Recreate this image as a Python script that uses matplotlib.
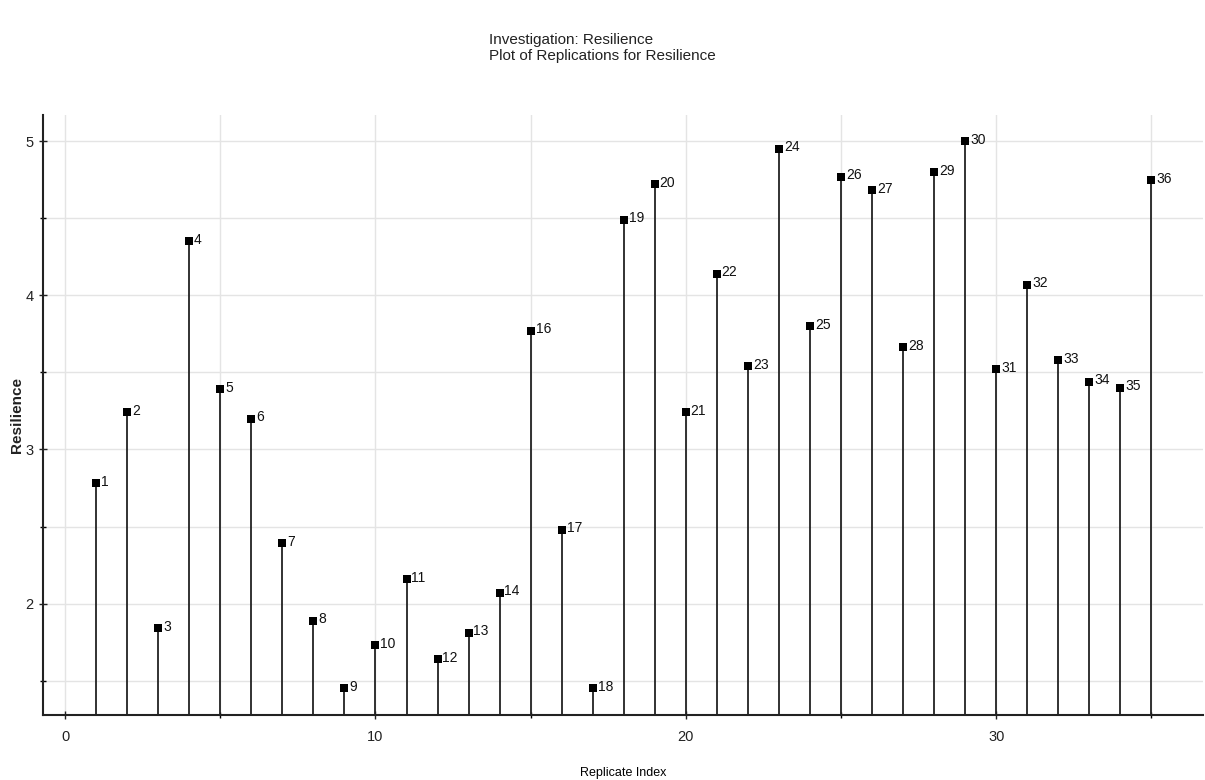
import matplotlib
matplotlib.use("Agg")
import matplotlib.pyplot as plt
from matplotlib.ticker import MultipleLocator

plt.rcParams['font.family'] = ['Liberation Sans', 'DejaVu Sans']

# Data
replicate_x = list(range(1, 36))
point_labels = [str(i) for i in range(1, 15)] + [str(i) for i in range(16, 37)]
resilience = [2.78, 3.24, 1.84, 4.35, 3.39, 3.20, 2.39, 1.89, 1.45, 1.73,
              2.16, 1.64, 1.81, 2.07, 3.77, 2.48, 1.45, 4.49, 4.72, 3.24,
              4.14, 3.54, 4.95, 3.80, 4.77, 4.68, 3.665, 4.80, 5.00, 3.52,
              4.07, 3.58, 3.44, 3.40, 4.745]

title_lines = ["Investigation: Resilience", "Plot of Replications for Resilience"]
x_label = "Replicate Index"
y_label = "Resilience"

fig = plt.figure(figsize=(12.05, 7.8), dpi=100)
ax = fig.add_axes([0.036, 0.0833, 0.962, 0.7693])

ymin, ymax = 1.277, 5.17
ax.set_xlim(-0.70, 36.65)
ax.set_ylim(ymin, ymax)

ax.vlines(replicate_x, ymin, resilience, colors='#222222', linewidth=1.3, zorder=3)
ax.scatter(replicate_x, resilience, marker='s', s=32, color='black', zorder=4, linewidths=0)
for xv, yv, lab in zip(replicate_x, resilience, point_labels):
    ax.annotate(lab, (xv, yv), xytext=(3.5, 1), textcoords='offset points',
                ha='left', va='center', fontsize=10, color='#111111')

ax.xaxis.set_major_locator(MultipleLocator(10))
ax.xaxis.set_minor_locator(MultipleLocator(5))
ax.yaxis.set_major_locator(MultipleLocator(1))
ax.yaxis.set_minor_locator(MultipleLocator(0.5))
ax.grid(True, which='both', color='#e4e4e4', linewidth=1.0, zorder=0)
ax.set_axisbelow(True)

for s in ['top', 'right']:
    ax.spines[s].set_visible(False)
for s in ['left', 'bottom']:
    ax.spines[s].set_linewidth(1.5)
    ax.spines[s].set_color('#222222')

ax.tick_params(axis='both', which='major', direction='inout', length=6, width=1.0,
               labelsize=10.5, colors='#222222')
ax.tick_params(axis='both', which='minor', direction='inout', length=4, width=1.0)
ax.tick_params(axis='x', pad=8)
ax.tick_params(axis='y', pad=4)

ax.set_xlabel(x_label, fontsize=9, labelpad=16)
fig.text(17 / 1205, 1 - 415 / 780, y_label, rotation=90, ha='center', va='center',
         fontsize=11, fontweight='bold', color='#222222')

fig.text(0.4055, 1 - 40 / 780, title_lines[0], ha='left', va='center', fontsize=11, color='#222222')
fig.text(0.4055, 1 - 56 / 780, title_lines[1], ha='left', va='center', fontsize=11, color='#222222')

fig.savefig("out.png", dpi=100, facecolor='white')
